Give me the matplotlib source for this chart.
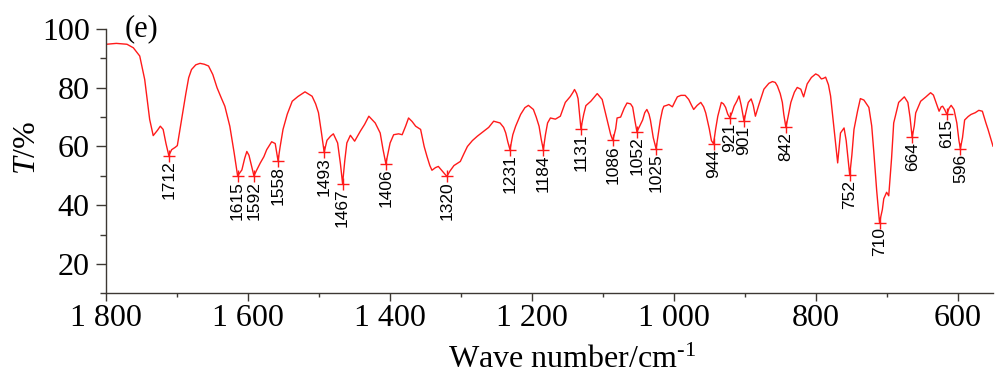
import matplotlib
matplotlib.use("Agg")
import matplotlib.pyplot as plt
from matplotlib.ticker import FixedLocator, MultipleLocator

# ---- data ----
wavenumber = [1800, 1786, 1771, 1762, 1753, 1746, 1739, 1734, 1728, 1724, 1720, 1716, 1712, 1708, 1703,
              1700, 1694, 1688, 1684, 1680, 1674, 1668, 1662, 1656, 1650, 1644, 1638, 1633, 1626, 1620,
              1615, 1609, 1605, 1602, 1599, 1596, 1592, 1588, 1583, 1578, 1574, 1567, 1562, 1558, 1555,
              1551, 1545, 1538, 1530, 1520, 1510, 1505, 1501, 1497, 1493, 1489, 1484, 1480, 1474, 1470,
              1467, 1464, 1461, 1456, 1450, 1442, 1436, 1430, 1421, 1414, 1410, 1406, 1400, 1395, 1388,
              1383, 1378, 1374, 1369, 1364, 1357, 1352, 1348, 1344, 1341, 1336, 1332, 1326, 1320, 1316,
              1310, 1301, 1296, 1291, 1284, 1277, 1268, 1261, 1254, 1245, 1240, 1237, 1234, 1231, 1227,
              1223, 1216, 1210, 1205, 1198, 1194, 1190, 1187, 1184, 1181, 1178, 1174, 1167, 1160, 1153,
              1146, 1142, 1140, 1137, 1135, 1131, 1127, 1124, 1117, 1108, 1101, 1094, 1089, 1086, 1082,
              1080, 1075, 1070, 1066, 1061, 1058, 1055, 1052, 1048, 1044, 1041, 1038, 1035, 1033, 1029,
              1025, 1022, 1019, 1016, 1014, 1010, 1007, 1002, 998, 995, 990, 984, 979, 975, 972,
              967, 962, 958, 955, 950, 947, 944, 941, 938, 933, 930, 927, 924, 921, 918,
              915, 911, 908, 905, 901, 898, 895, 891, 888, 885, 880, 873, 866, 861, 857,
              854, 850, 847, 845, 842, 839, 835, 830, 826, 821, 817, 812, 806, 800, 796,
              792, 789, 786, 782, 779, 774, 769, 765, 760, 757, 754, 752, 749, 746, 741,
              737, 732, 725, 721, 718, 714, 710, 706, 704, 700, 697, 693, 690, 683, 675,
              670, 667, 664, 661, 659, 652, 645, 638, 634, 631, 626, 623, 621, 618, 615,
              612, 609, 605, 601, 598, 596, 593, 590, 585, 581, 575, 570, 565, 560, 557,
              553, 550]
transmittance = [94.8, 95.1, 94.8, 93.6, 90.8, 82.8, 69.2, 63.7, 65.5, 66.9, 65.8, 61.0, 56.9, 58.9, 59.7,
                 60.3, 69.2, 78.0, 83.4, 86.2, 87.8, 88.3, 88.0, 87.4, 84.5, 80.0, 76.5, 73.7, 66.9, 58.0,
                 50.0, 52.0, 56.0, 58.3, 57.0, 54.0, 50.0, 52.0, 54.4, 56.5, 58.9, 61.6, 61.0, 55.1, 60.0,
                 65.8, 71.0, 75.4, 77.0, 78.6, 77.1, 74.5, 71.5, 65.0, 58.1, 62.1, 63.5, 64.3, 61.2, 54.0,
                 47.3, 55.0, 61.2, 63.8, 61.8, 65.2, 67.5, 70.3, 68.0, 64.6, 59.0, 54.1, 61.2, 64.0, 64.3,
                 64.0, 67.0, 69.7, 68.5, 66.9, 65.8, 60.0, 56.6, 53.5, 51.9, 52.8, 53.2, 51.5, 49.8, 51.5,
                 53.5, 54.9, 57.5, 60.0, 62.0, 63.5, 65.2, 66.5, 68.6, 68.0, 66.5, 64.6, 61.5, 58.9, 64.0,
                 66.9, 70.9, 73.2, 74.0, 72.6, 70.0, 66.9, 62.5, 58.9, 64.0, 68.0, 69.7, 69.3, 70.3, 75.0,
                 77.0, 78.5, 79.4, 78.0, 76.3, 66.1, 71.0, 73.9, 75.4, 78.0, 76.0, 69.0, 64.0, 62.1, 66.0,
                 69.7, 70.0, 73.0, 74.8, 74.5, 73.4, 69.0, 65.0, 67.0, 69.0, 71.5, 72.6, 71.0, 69.0, 63.0,
                 59.2, 64.0, 69.0, 72.5, 73.7, 74.0, 74.3, 73.5, 75.5, 76.9, 77.4, 77.4, 76.0, 74.0, 72.6,
                 74.0, 75.0, 73.5, 71.4, 66.0, 62.0, 60.9, 66.0, 70.3, 75.0, 74.5, 73.3, 71.0, 69.8, 71.5,
                 73.7, 75.5, 77.2, 74.0, 68.6, 72.0, 75.0, 76.2, 74.0, 70.3, 74.3, 79.5, 81.5, 82.1, 81.8,
                 80.6, 78.0, 75.0, 71.0, 66.5, 70.0, 75.0, 78.5, 80.1, 79.5, 76.9, 81.3, 83.5, 84.7, 84.2,
                 83.0, 83.2, 83.6, 81.0, 77.2, 65.8, 54.4, 64.6, 66.3, 62.0, 55.0, 50.2, 57.0, 65.8, 72.0,
                 76.3, 75.8, 73.3, 67.0, 58.0, 45.0, 34.1, 38.5, 42.2, 44.4, 43.2, 56.0, 68.0, 75.0, 76.9,
                 75.0, 70.0, 63.1, 67.0, 71.4, 75.4, 76.8, 78.3, 77.5, 75.4, 72.0, 73.5, 73.7, 72.5, 70.9,
                 73.0, 74.0, 72.6, 68.0, 62.0, 59.3, 63.0, 69.0, 70.2, 70.9, 71.5, 72.3, 72.0, 68.0, 65.8,
                 62.5, 60.1]

peak_positions = [1712, 1615, 1592, 1558, 1493, 1467, 1406, 1320, 1231, 1184, 1131, 1086, 1052, 1025,
                  944, 921, 901, 842, 752, 710, 664, 615, 596]
peak_values = [56.9, 50.0, 50.0, 55.1, 58.1, 47.3, 54.1, 49.8, 58.9, 58.9, 66.1, 62.1, 65.0, 59.2,
               60.9, 69.8, 68.6, 66.5, 50.2, 34.1, 63.1, 70.9, 59.3]
peak_labels = [str(p) for p in peak_positions]

x_ticks = [1800, 1600, 1400, 1200, 1000, 800, 600]
x_tick_labels = ["1 800", "1 600", "1 400", "1 200", "1 000", "800", "600"]
y_ticks = [20, 40, 60, 80, 100]
y_tick_labels = ["20", "40", "60", "80", "100"]

# ---- style ----
plt.rcParams['font.family'] = ['Liberation Serif', 'DejaVu Serif']
plt.rcParams['mathtext.fontset'] = 'custom'
plt.rcParams['mathtext.rm'] = 'Liberation Serif'
plt.rcParams['mathtext.it'] = 'Liberation Serif:italic'
plt.rcParams['mathtext.bf'] = 'Liberation Serif:bold'

spine_color = '#3d3833'
red = '#ff1a1a'

fig = plt.figure(figsize=(10, 3.84), dpi=100)
ax = fig.add_axes([0.1064, 0.2362, 0.8866, 0.6883])

ax.plot(wavenumber, transmittance, color=red, lw=1.0)
ax.plot(peak_positions, peak_values, linestyle='none', marker='+', color=red,
        markersize=9, markeredgewidth=1.0)

for px, py, lab in zip(peak_positions, peak_values, peak_labels):
    ax.annotate(lab, (px, py), xytext=(0, -3.5), textcoords='offset points',
                rotation=90, ha='center', va='top', fontsize=12.5,
                family=['Liberation Sans', 'DejaVu Sans'], color='black')

ax.set_xlim(1800, 550)
ax.set_ylim(10, 100)

ax.xaxis.set_major_locator(FixedLocator(x_ticks))
ax.set_xticklabels(x_tick_labels)
ax.xaxis.set_minor_locator(MultipleLocator(100))
ax.yaxis.set_major_locator(FixedLocator(y_ticks))
ax.set_yticklabels(y_tick_labels)
ax.yaxis.set_minor_locator(FixedLocator([10, 30, 50, 70, 90]))

for s in ['top', 'right']:
    ax.spines[s].set_visible(False)
for s in ['left', 'bottom']:
    ax.spines[s].set_color(spine_color)
    ax.spines[s].set_linewidth(1.0)

ax.tick_params(axis='x', which='major', direction='out', length=5.5, width=1.0,
               color=spine_color, labelsize=23, pad=2)
ax.tick_params(axis='x', which='minor', direction='out', length=3.2, width=1.0, color=spine_color)
ax.tick_params(axis='y', which='major', direction='out', length=7, width=1.0,
               color=spine_color, labelsize=23, pad=5)
ax.tick_params(axis='y', which='minor', direction='out', length=4, width=1.0, color=spine_color)

ax.set_xlabel(r'Wave number/cm$^{\text{-1}}$', fontsize=23)
ax.xaxis.set_label_coords(0.525, -0.20)
ax.set_ylabel(r'$\mathit{T}$/%', fontsize=23)
ax.yaxis.set_label_coords(-0.073, 0.55)

ax.text(0.021, 1.0, '(e)', transform=ax.transAxes, fontsize=22, ha='left', va='center')

fig.savefig('out.png', dpi=100)
